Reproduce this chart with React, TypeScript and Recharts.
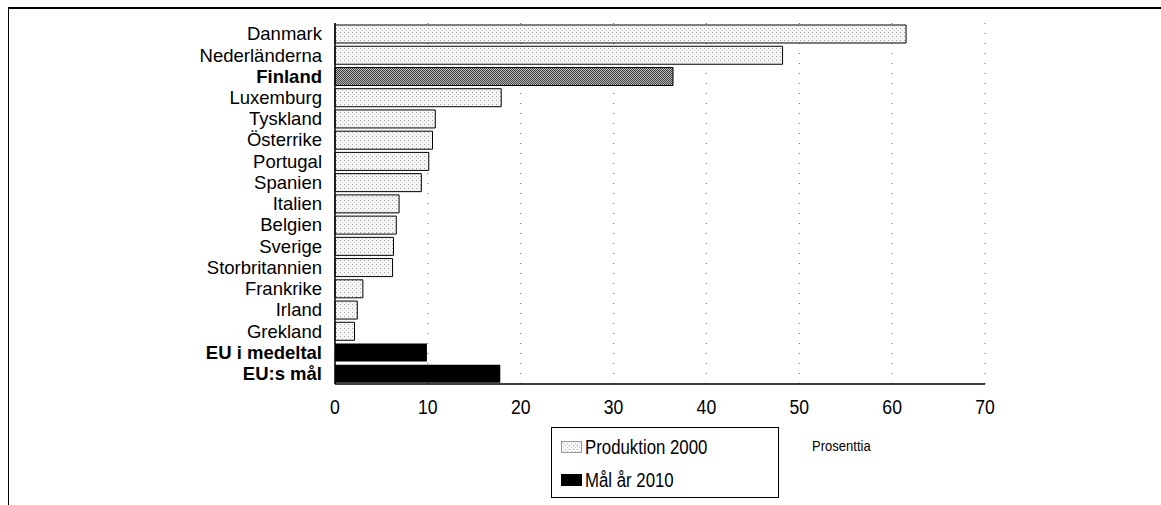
import React from 'react';
import { BarChart, Bar, XAxis, YAxis, CartesianGrid, Legend, Cell } from 'recharts';

const countries = [
  'Danmark', 'Nederländerna', 'Finland', 'Luxemburg', 'Tyskland', 'Österrike', 'Portugal', 'Spanien',
  'Italien', 'Belgien', 'Sverige', 'Storbritannien', 'Frankrike', 'Irland', 'Grekland',
  'EU i medeltal', 'EU:s mål',
];
const production = [61.5, 48.2, 36.4, 17.9, 10.8, 10.5, 10.1, 9.3, 6.9, 6.6, 6.3, 6.2, 3.0, 2.4, 2.1, null, null];
const target = [null, null, null, null, null, null, null, null, null, null, null, null, null, null, null, 9.9, 17.8];
const boldLabels = ['Finland', 'EU i medeltal', 'EU:s mål'];
const legendOrder = ['Produktion 2000', 'Mål år 2010'];
const xTicks = [0, 10, 20, 30, 40, 50, 60, 70];

const data = countries.map((name, i) => ({ name, prod: production[i], mal: target[i] }));

const SANS = '"Liberation Sans", Arial, sans-serif';
// no narrow face installed, so squeeze the regular one
const SQUEEZE = 0.84;

const CountryTick = ({ x, y, payload }: any) => (
  <text
    x={x - 5}
    y={y}
    dy="0.36em"
    textAnchor="end"
    fontFamily={SANS}
    fontSize={18.5}
    fontWeight={boldLabels.includes(payload.value) ? 'bold' : 'normal'}
    fill="#000"
  >
    {payload.value}
  </text>
);

const ValueTick = ({ x, y, payload }: any) => (
  <g transform={`translate(${x},${y}) scale(${SQUEEZE},1)`}>
    <text x={0} y={0} dy="0.71em" textAnchor="middle" fontFamily={SANS} fontSize={21} fill="#000">
      {payload.value}
    </text>
  </g>
);

const LegendBox = ({ payload }: any) => {
  const items = [...(payload || [])].sort((a: any, b: any) => legendOrder.indexOf(a.value) - legendOrder.indexOf(b.value));
  return (
    <div style={{ border: '1px solid #000', width: 228, height: 71, background: '#fff', boxSizing: 'border-box', paddingTop: 3 }}>
      {items.map((e: any) => (
        <div key={e.value} style={{ display: 'flex', alignItems: 'center', height: 33, paddingLeft: 9 }}>
          <svg width={22} height={13} style={{ marginRight: 2, flex: 'none' }}>
            <rect x={0.5} y={0.5} width={20} height={11} fill={e.color} stroke={e.value === 'Produktion 2000' ? '#999' : '#000'} />
          </svg>
          <span style={{ fontFamily: SANS, fontSize: 20, color: '#000', display: 'inline-block', transform: `scaleX(${SQUEEZE})`, transformOrigin: 'left center', whiteSpace: 'nowrap' }}>
            {e.value}
          </span>
        </div>
      ))}
    </div>
  );
};

const AxisUnit = ({ viewBox }: any) => (
  <g transform={`translate(${viewBox.x + viewBox.width * 0.734},${viewBox.y + 67}) scale(${SQUEEZE},1)`}>
    <text x={0} y={0} fontFamily={SANS} fontSize={15.5} fill="#000">
      Prosenttia
    </text>
  </g>
);

export default function App() {
  return (
    <div style={{ position: 'absolute', left: 0, top: 0, width: 1161, height: 505, background: '#fff' }}>
      <div style={{ position: 'absolute', left: 8, top: 7, width: 1153, height: 498, borderTop: '2px solid #000', borderLeft: '1px solid #000' }} />
      <BarChart
        width={1161}
        height={505}
        data={data}
        layout="vertical"
        margin={{ top: 23, right: 176, bottom: 91, left: 0 }}
        barSize={18}
        style={{ position: 'absolute', left: 0, top: 0 }}
      >
        <defs>
          <pattern id="prodDots" width="4" height="4" patternUnits="userSpaceOnUse">
            <rect width="4" height="4" fill="#f6f6f6" />
            <rect x="0" y="0" width="1" height="1" fill="#a0a0a0" />
            <rect x="2" y="2" width="1" height="1" fill="#c8c8c8" />
          </pattern>
          <pattern id="finDots" width="2" height="2" patternUnits="userSpaceOnUse">
            <rect width="2" height="2" fill="#b8b8b8" />
            <rect x="0" y="0" width="1" height="1" fill="#404040" />
            <rect x="1" y="1" width="1" height="1" fill="#404040" />
          </pattern>
        </defs>
        <CartesianGrid horizontal={false} stroke="#666" strokeDasharray="1 9" />
        <XAxis
          type="number"
          domain={[0, 70]}
          ticks={xTicks}
          interval={0}
          tickLine={false}
          tickMargin={9}
          height={30}
          axisLine={{ stroke: '#000', strokeWidth: 1.5 }}
          tick={<ValueTick />}
          label={{ content: AxisUnit }}
        />
        <XAxis
          xAxisId="top"
          orientation="top"
          type="number"
          domain={[0, 70]}
          height={0}
          tick={false}
          tickLine={false}
          axisLine={{ stroke: '#000', strokeWidth: 2 }}
        />
        <YAxis
          type="category"
          dataKey="name"
          width={335}
          interval={0}
          tickLine={false}
          axisLine={{ stroke: '#000', strokeWidth: 1.5 }}
          tick={<CountryTick />}
        />
        <Legend
          layout="horizontal"
          verticalAlign="middle"
          align="center"
          content={<LegendBox />}
          wrapperStyle={{ left: 551, top: 427, width: 'auto' }}
        />
        <Bar dataKey="prod" name="Produktion 2000" stackId="a" fill="url(#prodDots)" stroke="#000" strokeWidth={1} isAnimationActive={false}>
          {data.map((d) => (
            <Cell key={d.name} fill={d.name === 'Finland' ? 'url(#finDots)' : 'url(#prodDots)'} />
          ))}
        </Bar>
        <Bar dataKey="mal" name="Mål år 2010" stackId="a" fill="#000" isAnimationActive={false} />
      </BarChart>
    </div>
  );
}
